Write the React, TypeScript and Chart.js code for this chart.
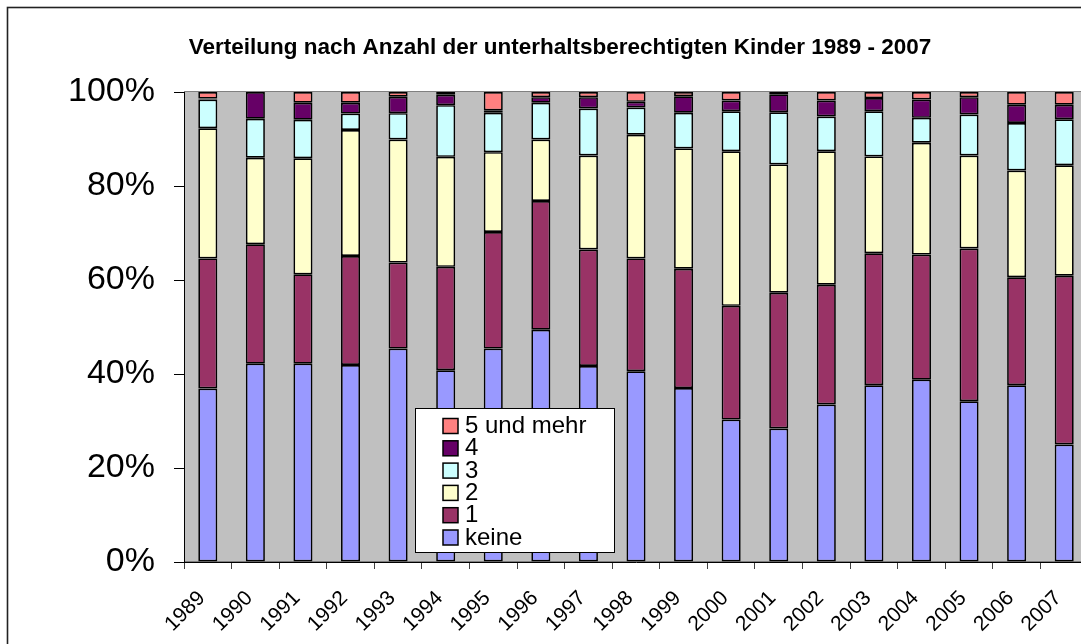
import React, { useEffect, useRef } from "react";
import { Chart, registerables } from "chart.js";

Chart.register(...registerables);

const years = ["1989","1990","1991","1992","1993","1994","1995","1996","1997","1998","1999","2000","2001","2002","2003","2004","2005","2006","2007"];
const keine = [36.9,42.2,42.2,41.9,45.4,40.8,45.4,49.4,41.7,40.6,37.0,30.3,28.4,33.5,37.6,38.8,34.2,37.6,25.0];
const eins = [27.7,25.4,19.0,23.2,18.3,22.0,24.8,27.4,24.8,24.0,25.4,24.2,28.9,25.5,28.1,26.6,32.5,23.0,35.9];
const zwei = [27.7,18.4,24.7,26.8,26.2,23.4,17.0,13.1,20.0,26.3,25.6,32.9,27.3,28.4,20.6,23.8,19.8,22.7,23.5];
const drei = [6.1,8.3,8.2,3.5,5.6,11.0,8.4,7.8,10.0,5.8,7.6,8.5,11.1,7.4,9.6,5.3,8.7,10.1,9.8];
const vier = [0.2,5.7,3.6,2.3,3.5,2.2,0.5,1.2,2.4,1.2,3.5,2.3,3.8,3.4,2.8,3.9,3.7,3.9,3.1];
const fuenf = [1.4,0.0,2.3,2.3,1.0,0.6,3.9,1.1,1.1,2.1,0.9,1.8,0.5,1.8,1.3,1.6,1.1,2.7,2.7];

const seriesLabels = ["keine", "1", "2", "3", "4", "5 und mehr"];
const seriesColors = ["#9999FF", "#993366", "#FFFFCC", "#CCFFFF", "#660066", "#FF8080"];
const yTicks = [0, 20, 40, 60, 80, 100];
const titleText = "Verteilung nach Anzahl der unterhaltsberechtigten Kinder 1989 - 2007";

const FONT = '"Liberation Sans", Arial, sans-serif';

const decorPlugin = {
  id: "decor",
  beforeDraw(chart: any) {
    const { ctx, chartArea } = chart;
    ctx.save();
    ctx.fillStyle = "#ffffff";
    ctx.fillRect(0, 0, chart.width, chart.height);
    // outer frame
    ctx.strokeStyle = "#222222";
    ctx.lineWidth = 1.6;
    ctx.strokeRect(7.5, 7.5, 1300, 800);
    // plot background
    ctx.fillStyle = "#C0C0C0";
    ctx.fillRect(chartArea.left, chartArea.top, chartArea.right - chartArea.left, chartArea.bottom - chartArea.top);
    ctx.strokeStyle = "#808080";
    ctx.lineWidth = 1;
    ctx.strokeRect(chartArea.left + 0.5, chartArea.top - 0.5, chartArea.right - chartArea.left, chartArea.bottom - chartArea.top);
    // title
    ctx.fillStyle = "#000000";
    ctx.font = `bold 22.5px ${FONT}`;
    ctx.textAlign = "center";
    ctx.textBaseline = "middle";
    ctx.fillText(titleText, 560, 48);
    ctx.restore();
  },
  afterDraw(chart: any) {
    const { ctx } = chart;
    const ds = chart.data.datasets;
    ctx.save();
    const bx = 415.5, by = 408.5, bw = 199, bh = 144;
    ctx.fillStyle = "#ffffff";
    ctx.fillRect(bx, by, bw, bh);
    ctx.strokeStyle = "#000000";
    ctx.lineWidth = 1;
    ctx.strokeRect(bx, by, bw, bh);
    ctx.font = `24px ${FONT}`;
    ctx.textAlign = "left";
    ctx.textBaseline = "middle";
    for (let i = 0; i < ds.length; i++) {
      const d = ds[ds.length - 1 - i];
      const sy = 418.5 + i * 22.3;
      ctx.fillStyle = d.backgroundColor;
      ctx.fillRect(443, sy, 15, 15);
      ctx.lineWidth = 1.5;
      ctx.strokeStyle = "#000000";
      ctx.strokeRect(443, sy, 15, 15);
      ctx.fillStyle = "#000000";
      ctx.fillText(d.label, 465, sy + 8);
    }
    ctx.restore();
  },
};

export default function App() {
  const ref = useRef<HTMLCanvasElement | null>(null);
  useEffect(() => {
    if (!ref.current) return;
    const values = [keine, eins, zwei, drei, vier, fuenf];
    const chart = new Chart(ref.current, {
      type: "bar",
      data: {
        labels: years,
        datasets: values.map((v, i) => ({
          label: seriesLabels[i],
          data: v,
          backgroundColor: seriesColors[i],
          borderColor: "#000000",
          borderWidth: 1.7,
          borderSkipped: false,
          barPercentage: 0.4,
          categoryPercentage: 1,
        })),
      },
      options: {
        responsive: false,
        animation: false,
        devicePixelRatio: 1,
        layout: { padding: { left: 66, right: 32, top: 92, bottom: 0 } },
        plugins: {
          legend: { display: false },
          title: { display: false },
          tooltip: { enabled: false },
        },
        scales: {
          x: {
            stacked: true,
            grid: {
              offset: true,
              drawOnChartArea: false,
              drawTicks: true,
              tickLength: 7,
              color: "#404040",
            },
            border: { color: "#000000", width: 1 },
            ticks: {
              minRotation: 45,
              maxRotation: 45,
              autoSkip: false,
              color: "#000000",
              font: { family: FONT, size: 21 },
              padding: 17,
              labelOffset: -6,
            },
            afterFit: (s: any) => { s.height = 82; },
          },
          y: {
            stacked: true,
            min: 0,
            max: 100,
            afterBuildTicks: (s: any) => { s.ticks = yTicks.map((v) => ({ value: v })); },
            grid: {
              drawOnChartArea: false,
              drawTicks: true,
              tickLength: 10,
              color: "#000000",
            },
            border: { color: "#000000", width: 1 },
            ticks: {
              color: "#000000",
              font: { family: FONT, size: 34 },
              padding: 19,
              callback: (v: any) => `${v}%`,
            },
            afterFit: (s: any) => { s.width = 118; },
          },
        },
      },
      plugins: [decorPlugin],
    });
    return () => chart.destroy();
  }, []);
  return (
    <div style={{ position: "fixed", left: 0, top: 0, width: 1081, height: 644, overflow: "hidden", background: "#fff" }}>
      <canvas ref={ref} width={1120} height={644} style={{ width: 1120, height: 644, display: "block" }} />
    </div>
  );
}
